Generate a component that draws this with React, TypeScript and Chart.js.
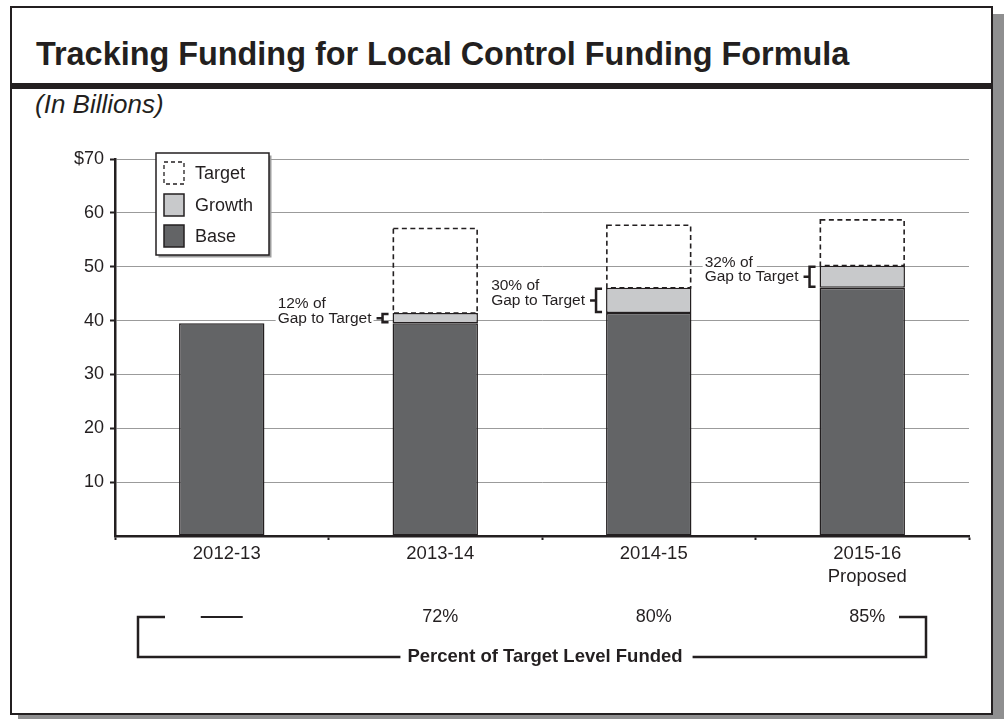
import React, { useEffect, useRef } from 'react';
import { Chart, registerables } from 'chart.js';

Chart.register(...registerables);

// ---- data ----
const categories: (string | string[])[] = ['2012-13', '2013-14', '2014-15', ['2015-16', 'Proposed']];
const baseValues: (number | null)[] = [39.5, 39.5, 41.4, 46.1];
const growthValues: (number | null)[] = [null, 1.9, 4.7, 4.1];
const targetTotals: (number | null)[] = [null, 57.1, 57.7, 58.7];
const gapShares: (string | null)[] = [null, '12%', '30%', '32%'];
const fundedShares: string[] = ['—', '72%', '80%', '85%'];
const seriesNames = ['Base', 'Growth', 'Target'];
const yMax = 70;
const yStep = 10;

const FONT = '"Liberation Sans", Arial, Helvetica, sans-serif';
const INK = '#231f20';
const BASE_FILL = '#636466';
const GROWTH_FILL = '#c8c9cb';

// target remainder stacked above base + growth
const targetRemainder = targetTotals.map((t, i) =>
  t == null ? null : t - (baseValues[i] ?? 0) - (growthValues[i] ?? 0)
);

const decorPlugin = {
  id: 'decor',
  afterDatasetsDraw(chart: any) {
    const ctx: CanvasRenderingContext2D = chart.ctx;
    // dashed target outlines
    const tMeta = chart.getDatasetMeta(2);
    ctx.save();
    ctx.strokeStyle = INK;
    ctx.lineWidth = 1.6;
    ctx.setLineDash([5, 3.5]);
    tMeta.data.forEach((el: any, i: number) => {
      if (targetRemainder[i] == null) return;
      const { x, y, base, width } = el.getProps(['x', 'y', 'base', 'width'], true);
      ctx.strokeRect(x - width / 2 + 0.8, y, width - 1.6, base - y);
    });
    ctx.restore();

    // gap annotations with brackets
    const gMeta = chart.getDatasetMeta(1);
    ctx.save();
    ctx.font = `15.5px ${FONT}`;
    ctx.textBaseline = 'alphabetic';
    gMeta.data.forEach((el: any, i: number) => {
      const share = gapShares[i];
      if (share == null) return;
      const { x, y, base, width } = el.getProps(['x', 'y', 'base', 'width'], true);
      const left = x - width / 2;
      const mid = (y + base) / 2;
      const line1 = `${share} of`;
      const line2 = 'Gap to Target';
      const w1 = ctx.measureText(line1).width;
      const w2 = ctx.measureText(line2).width;
      const tx = left - 21 - w2;
      const b2 = mid + 4.5;
      const b1 = b2 - 14.5;
      ctx.fillStyle = '#ffffff';
      ctx.fillRect(tx - 2, b1 - 12, w1 + 6, 15);
      ctx.fillRect(tx - 2, b2 - 12, w2 + 4, 15);
      ctx.fillStyle = INK;
      ctx.textAlign = 'left';
      ctx.fillText(line1, tx, b1);
      ctx.fillText(line2, tx, b2);
      // bracket
      const bx = left - 10;
      ctx.strokeStyle = INK;
      ctx.lineWidth = 2.5;
      ctx.beginPath();
      ctx.moveTo(left - 4, y + 1);
      ctx.lineTo(bx, y + 1);
      ctx.lineTo(bx, base - 1);
      ctx.lineTo(left - 4, base - 1);
      ctx.moveTo(bx, mid);
      ctx.lineTo(bx - 6, mid);
      ctx.stroke();
    });
    ctx.restore();
  },
  afterDraw(chart: any) {
    const ctx: CanvasRenderingContext2D = chart.ctx;
    const area = chart.chartArea;
    const xs = chart.scales.x;

    // legend
    const lx = area.left + 41;
    const ly = area.top - 6;
    const lw = 113;
    const lh = 102;
    ctx.save();
    ctx.fillStyle = '#9d9d9d';
    ctx.fillRect(lx + 2.5, ly + 2.5, lw, lh);
    ctx.fillStyle = '#ffffff';
    ctx.fillRect(lx, ly, lw, lh);
    ctx.strokeStyle = INK;
    ctx.lineWidth = 1.5;
    ctx.strokeRect(lx, ly, lw, lh);
    const items = [
      { name: seriesNames[2], kind: 'dash', cy: 173 },
      { name: seriesNames[1], fill: GROWTH_FILL, cy: 205 },
      { name: seriesNames[0], fill: BASE_FILL, cy: 236 },
    ];
    ctx.font = `18px ${FONT}`;
    ctx.textBaseline = 'middle';
    ctx.textAlign = 'left';
    items.forEach((it: any) => {
      const sx = lx + 8;
      const sy = it.cy - 11;
      if (it.kind === 'dash') {
        ctx.save();
        ctx.setLineDash([4, 3]);
        ctx.lineWidth = 1.3;
        ctx.strokeStyle = INK;
        ctx.strokeRect(sx, sy, 20, 22);
        ctx.restore();
      } else {
        ctx.fillStyle = it.fill;
        ctx.fillRect(sx, sy, 20, 22);
        ctx.strokeStyle = INK;
        ctx.lineWidth = 1.5;
        ctx.strokeRect(sx, sy, 20, 22);
      }
      ctx.fillStyle = INK;
      ctx.fillText(it.name, lx + 39, it.cy + 1);
    });
    ctx.restore();

    // percent of target row
    const rowY = 617;
    ctx.save();
    ctx.font = `18px ${FONT}`;
    ctx.textAlign = 'center';
    ctx.textBaseline = 'middle';
    ctx.fillStyle = INK;
    ctx.strokeStyle = INK;
    fundedShares.forEach((s, i) => {
      const cx = xs.getPixelForValue(i);
      if (s === '—') {
        ctx.lineWidth = 2;
        ctx.beginPath();
        ctx.moveTo(cx - 21, rowY);
        ctx.lineTo(cx + 21, rowY);
        ctx.stroke();
      } else {
        ctx.fillText(s, cx + 5, rowY);
      }
    });

    // bottom bracket with caption
    const bY = 657;
    const leftX = area.left + 23;
    const rightX = area.right - 43;
    const caption = 'Percent of Target Level Funded';
    ctx.font = `bold 18.5px ${FONT}`;
    const cw = ctx.measureText(caption).width;
    const ccx = (area.left + area.right) / 2 + 3;
    ctx.fillText(caption, ccx, bY);
    ctx.lineWidth = 2.5;
    ctx.beginPath();
    ctx.moveTo(leftX + 27, rowY);
    ctx.lineTo(leftX, rowY);
    ctx.lineTo(leftX, bY);
    ctx.lineTo(ccx - cw / 2 - 7, bY);
    ctx.moveTo(ccx + cw / 2 + 10, bY);
    ctx.lineTo(rightX, bY);
    ctx.lineTo(rightX, rowY);
    ctx.lineTo(rightX - 27, rowY);
    ctx.stroke();
    ctx.restore();
  },
};

export default function App() {
  const canvasRef = useRef<HTMLCanvasElement | null>(null);

  useEffect(() => {
    if (!canvasRef.current) return;
    const chart = new Chart(canvasRef.current, {
      type: 'bar',
      data: {
        labels: categories as any,
        datasets: [
          {
            label: seriesNames[0],
            data: baseValues as any,
            backgroundColor: BASE_FILL,
            borderColor: INK,
            borderWidth: 1.5,
            borderSkipped: false,
          },
          {
            label: seriesNames[1],
            data: growthValues as any,
            backgroundColor: GROWTH_FILL,
            borderColor: INK,
            borderWidth: 1.5,
            borderSkipped: false,
          },
          {
            label: seriesNames[2],
            data: targetRemainder as any,
            backgroundColor: 'rgba(0,0,0,0)',
            borderWidth: 0,
          },
        ],
      },
      options: {
        responsive: false,
        animation: false,
        devicePixelRatio: 1,
        layout: { padding: { left: 0, top: 159, right: 35, bottom: 123 } },
        datasets: { bar: { categoryPercentage: 0.8, barPercentage: 0.5 } },
        plugins: { legend: { display: false }, tooltip: { enabled: false } },
        scales: {
          x: {
            stacked: true,
            afterFit: (s: any) => {
              s.height = 60;
            },
            grid: {
              display: true,
              drawOnChartArea: false,
              offset: true,
              tickLength: 4,
              tickColor: INK,
              tickWidth: 2,
            },
            border: { display: true, color: INK, width: 2.5 },
            ticks: {
              font: { family: FONT, size: 18.5, lineHeight: 1.22 },
              color: INK,
              padding: 3,
              labelOffset: 5,
              maxRotation: 0,
            },
          },
          y: {
            stacked: true,
            min: 0,
            max: yMax,
            afterFit: (s: any) => {
              s.width = 115;
            },
            grid: {
              color: (c: any) => (c.tick && c.tick.value === 0 ? 'rgba(0,0,0,0)' : '#9b9b9b'),
              lineWidth: 1,
              tickLength: 5,
              tickWidth: 2,
              tickColor: (c: any) => (c.tick && c.tick.value === 0 ? 'rgba(0,0,0,0)' : INK),
            },
            border: { display: true, color: INK, width: 2.5 },
            ticks: {
              stepSize: yStep,
              font: { family: FONT, size: 18 },
              color: INK,
              padding: 6,
              callback: (v: any) => (v === 0 ? '' : v === yMax ? `$${v}` : `${v}`),
            },
          },
        },
      },
      plugins: [decorPlugin],
    } as any);
    return () => chart.destroy();
  }, []);

  return (
    <div
      style={{
        position: 'fixed',
        left: 0,
        top: 0,
        width: 1004,
        height: 719,
        background: '#ffffff',
        overflow: 'hidden',
        fontFamily: FONT,
      }}
    >
      <div style={{ position: 'absolute', left: 18, top: 14, width: 986, height: 705, background: '#8f8f90' }} />
      <div
        style={{
          position: 'absolute',
          left: 10,
          top: 6,
          width: 983,
          height: 709,
          boxSizing: 'border-box',
          border: `2px solid ${INK}`,
          background: '#ffffff',
        }}
      />
      <div style={{ position: 'absolute', left: 10, top: 83, width: 983, height: 6, background: INK }} />
      <div
        style={{
          position: 'absolute',
          left: 36,
          top: 38,
          fontSize: 32.4,
          lineHeight: '32px',
          fontWeight: 'bold',
          color: INK,
          whiteSpace: 'nowrap',
        }}
      >
        Tracking Funding for Local Control Funding Formula
      </div>
      <div
        style={{
          position: 'absolute',
          left: 35,
          top: 91,
          fontSize: 26,
          lineHeight: '26px',
          fontStyle: 'italic',
          color: INK,
          whiteSpace: 'nowrap',
        }}
      >
        (In Billions)
      </div>
      <canvas
        ref={canvasRef}
        width={1004}
        height={719}
        style={{ position: 'absolute', left: 0, top: 0, width: 1004, height: 719 }}
      />
    </div>
  );
}
